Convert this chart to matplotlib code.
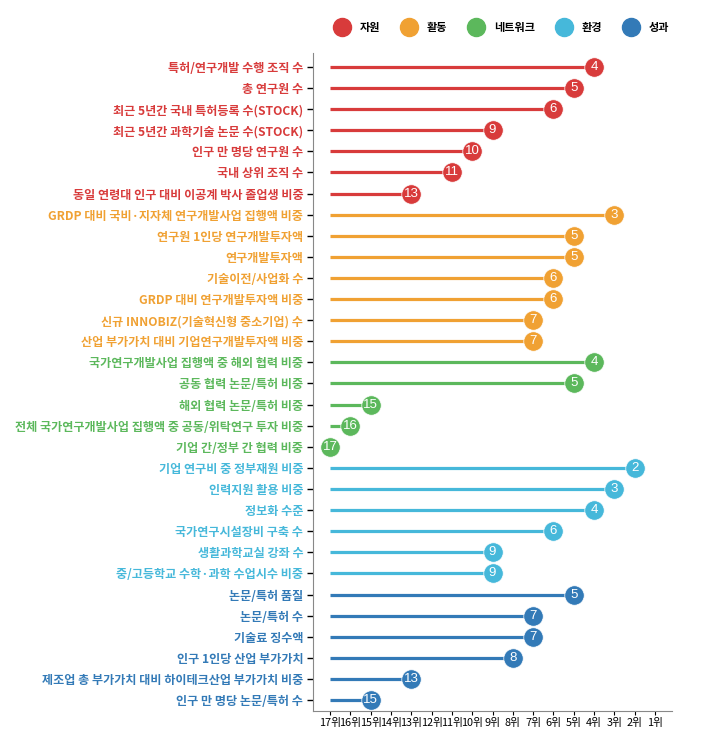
import numpy as np
import matplotlib
matplotlib.use("Agg")
import matplotlib.pyplot as plt
from matplotlib.lines import Line2D

plt.rcParams['font.family'] = ['Noto Sans CJK KR', 'DejaVu Sans']

# ==== data ====
groups = ["자원", "활동", "네트워크", "환경", "성과"]
colors = ["#d83b3b", "#f0a133", "#5cb85c", "#46b8da", "#337ab7"]

res_labels = ["특허/연구개발 수행 조직 수", "총 연구원 수", "최근 5년간 국내 특허등록 수(STOCK)",
              "최근 5년간 과학기술 논문 수(STOCK)", "인구 만 명당 연구원 수", "국내 상위 조직 수",
              "동일 연령대 인구 대비 이공계 박사 졸업생 비중"]
res_rank = [4, 5, 6, 9, 10, 11, 13]

act_labels = ["GRDP 대비 국비·지자체 연구개발사업 집행액 비중", "연구원 1인당 연구개발투자액", "연구개발투자액",
              "기술이전/사업화 수", "GRDP 대비 연구개발투자액 비중", "신규 INNOBIZ(기술혁신형 중소기업) 수",
              "산업 부가가치 대비 기업연구개발투자액 비중"]
act_rank = [3, 5, 5, 6, 6, 7, 7]

net_labels = ["국가연구개발사업 집행액 중 해외 협력 비중", "공동 협력 논문/특허 비중", "해외 협력 논문/특허 비중",
              "전체 국가연구개발사업 집행액 중 공동/위탁연구 투자 비중", "기업 간/정부 간 협력 비중"]
net_rank = [4, 5, 15, 16, 17]

env_labels = ["기업 연구비 중 정부재원 비중", "인력지원 활용 비중", "정보화 수준", "국가연구시설장비 구축 수",
              "생활과학교실 강좌 수", "중/고등학교 수학·과학 수업시수 비중"]
env_rank = [2, 3, 4, 6, 9, 9]

out_labels = ["논문/특허 품질", "논문/특허 수", "기술료 징수액", "인구 1인당 산업 부가가치",
              "제조업 총 부가가치 대비 하이테크산업 부가가치 비중", "인구 만 명당 논문/특허 수"]
out_rank = [5, 7, 7, 8, 13, 15]

xtick_vals = list(range(17, 0, -1))
xtick_labels = [str(v) + "위" for v in xtick_vals]

# ==== plotting ====
all_labels = [res_labels, act_labels, net_labels, env_labels, out_labels]
all_ranks = [res_rank, act_rank, net_rank, env_rank, out_rank]

fig = plt.figure(figsize=(7.02, 7.34), dpi=100)
ax = fig.add_axes([313/702, 1 - 711/734, (672-313)/702, (711-53)/734])

ylabels = []
ycolors = []
row = 0
for labs, ranks, c in zip(all_labels, all_ranks, colors):
	for lab, r in zip(labs, ranks):
		ax.plot([17, r], [row, row], color=c, lw=2.3, solid_capstyle='butt', zorder=2)
		ax.plot(r, row, 'o', ms=14, color=c, mec='white', mew=0.5, zorder=3)
		ax.text(r, row, str(r), color='white', ha='center', va='center',
				fontsize=9.5, zorder=4, family=['Liberation Sans'])
		ylabels.append(lab)
		ycolors.append(c)
		row += 1

ax.set_yticks(range(len(ylabels)))
ax.set_yticklabels(ylabels, fontsize=8.7, fontweight='bold')
for tl, c in zip(ax.get_yticklabels(), ycolors):
	tl.set_color(c)
ax.set_ylim(len(ylabels) - 0.48, -0.66)

ax.set_xticks(xtick_vals)
ax.set_xticklabels(xtick_labels, fontsize=7.8)
ax.set_xlim(17.84, 0.16)

for s in ['top', 'right']:
	ax.spines[s].set_visible(False)
for s in ['left', 'bottom']:
	ax.spines[s].set_color('#888888')
ax.tick_params(axis='y', length=4, width=1, pad=3)
ax.tick_params(axis='x', length=3, width=0.8, pad=2, colors='black')

handles = [Line2D([], [], marker='o', ls='', ms=13, color=c, label=g) for g, c in zip(groups, colors)]
leg = fig.legend(handles=handles, ncol=5, loc='center', bbox_to_anchor=(500/702, 1 - 27/734),
				 frameon=False, handletextpad=0.6, columnspacing=1.6,
				 prop={'size': 8, 'weight': 'bold'})

fig.savefig("out.png", dpi=100)
